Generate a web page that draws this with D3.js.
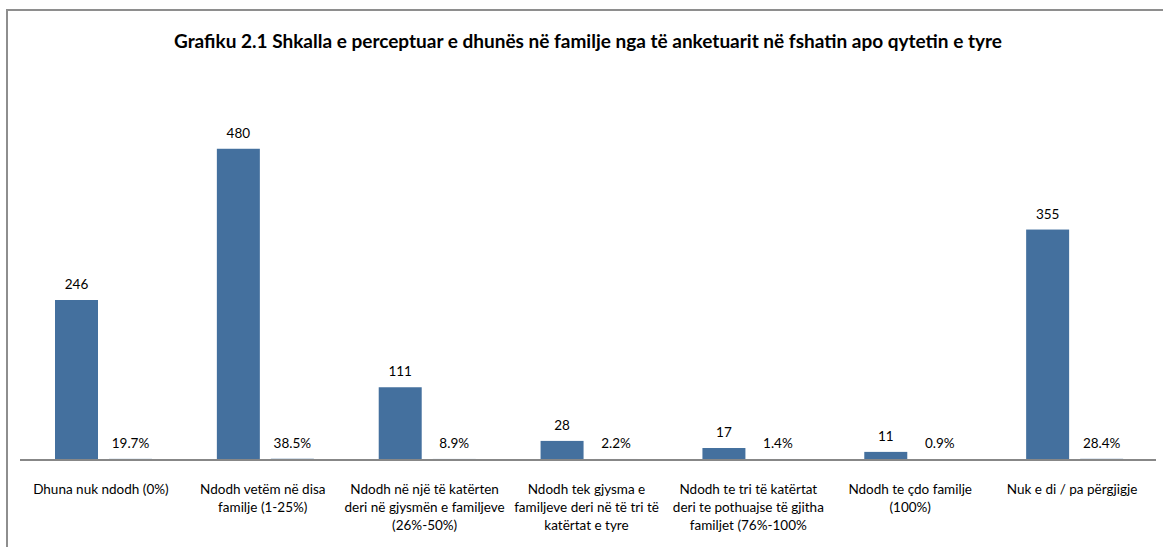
<!DOCTYPE html>
<html>
<head>
<meta charset="utf-8">
<script src="https://cdn.jsdelivr.net/npm/d3@7"></script>
<style>
  body { margin: 0; background: #fff; }
  text { font-family: Lato, "Liberation Sans", sans-serif; fill: #000; }
</style>
</head>
<body>
<div id="chart"></div>
<script>
var fw = 1163;
var fh = 547;

// data
var categories = [
  ["Dhuna nuk ndodh (0%)"],
  ["Ndodh vetëm në disa", "familje (1-25%)"],
  ["Ndodh në një të katërten", "deri në gjysmën e familjeve", "(26%-50%)"],
  ["Ndodh tek gjysma  e", "familjeve deri në të tri të", "katërtat e tyre"],
  ["Ndodh te tri të katërtat", "deri te pothuajse të gjitha", "familjet (76%-100%"],
  ["Ndodh te çdo familje", "(100%)"],
  ["Nuk e di / pa përgjigje"]
];
var counts = [246, 480, 111, 28, 17, 11, 355];
var shares = [0.197, 0.385, 0.089, 0.022, 0.014, 0.009, 0.284];
var series = ["count", "share"];
var title = "Grafiku 2.1 Shkalla e perceptuar e dhunës në familje nga të anketuarit në fshatin apo qytetin e tyre";

var rows = categories.map(function(c, i) {
  return { key: i, lines: c, count: counts[i], share: shares[i] };
});

var barColor = "#44709e";

var svg = d3.select("#chart")
    .append("svg")
    .attr("width", fw)
    .attr("height", fh);

// frame (top + left edges only show)
svg.append("path")
    .attr("d", "M7,547 V10 H1163")
    .attr("fill", "none")
    .attr("stroke", "#8e8e8e")
    .attr("stroke-width", 2);

var x0 = d3.scaleBand()
    .domain(rows.map(function(d) { return d.key; }))
    .range([20, 1153]);

var x1 = d3.scaleBand()
    .domain(series)
    .range([35, 132])
    .paddingInner(0.204);

var y = d3.scaleLinear()
    .domain([0, 600])
    .range([459, 71.2]);

svg.append("text")
    .attr("x", 588)
    .attr("y", 48)
    .attr("text-anchor", "middle")
    .attr("textLength", 828)
    .attr("lengthAdjust", "spacingAndGlyphs")
    .style("font-size", "19px")
    .style("font-weight", "bold")
    .text(title);

var groups = svg.selectAll(".grp")
    .data(rows)
    .enter()
    .append("g")
    .attr("class", "grp")
    .attr("transform", function(d) { return "translate(" + x0(d.key) + ",0)"; });

groups.append("rect")
    .attr("x", x1("count"))
    .attr("width", x1.bandwidth())
    .attr("y", function(d) { return y(d.count); })
    .attr("height", function(d) { return y(0) - y(d.count); })
    .attr("fill", barColor);

groups.append("rect")
    .attr("x", x1("share"))
    .attr("width", x1.bandwidth())
    .attr("y", function(d) { return y(d.share); })
    .attr("height", function(d) { return y(0) - y(d.share); })
    .attr("fill", barColor);

groups.append("text")
    .attr("x", x1("count") + x1.bandwidth() / 2)
    .attr("y", function(d) { return y(d.count) - 11; })
    .attr("text-anchor", "middle")
    .style("font-size", "13.5px")
    .text(function(d) { return d.count; });

groups.append("text")
    .attr("x", x1("share") + x1.bandwidth() / 2)
    .attr("y", function(d) { return y(d.share) - 11; })
    .attr("text-anchor", "middle")
    .style("font-size", "13.5px")
    .text(function(d) { return d3.format(".1%")(d.share); });

// x axis line
svg.append("line")
    .attr("x1", 20)
    .attr("x2", 1156)
    .attr("y1", 460)
    .attr("y2", 460)
    .attr("stroke", "#878787")
    .attr("stroke-width", 2);

var lbl = groups.append("text")
    .attr("text-anchor", "middle")
    .style("font-size", "13.5px");

lbl.selectAll("tspan")
    .data(function(d) { return d.lines; })
    .enter()
    .append("tspan")
    .attr("x", x0.bandwidth() / 2)
    .attr("y", function(d, i) { return 494 + i * 18; })
    .text(function(d) { return d; });
</script>
</body>
</html>
